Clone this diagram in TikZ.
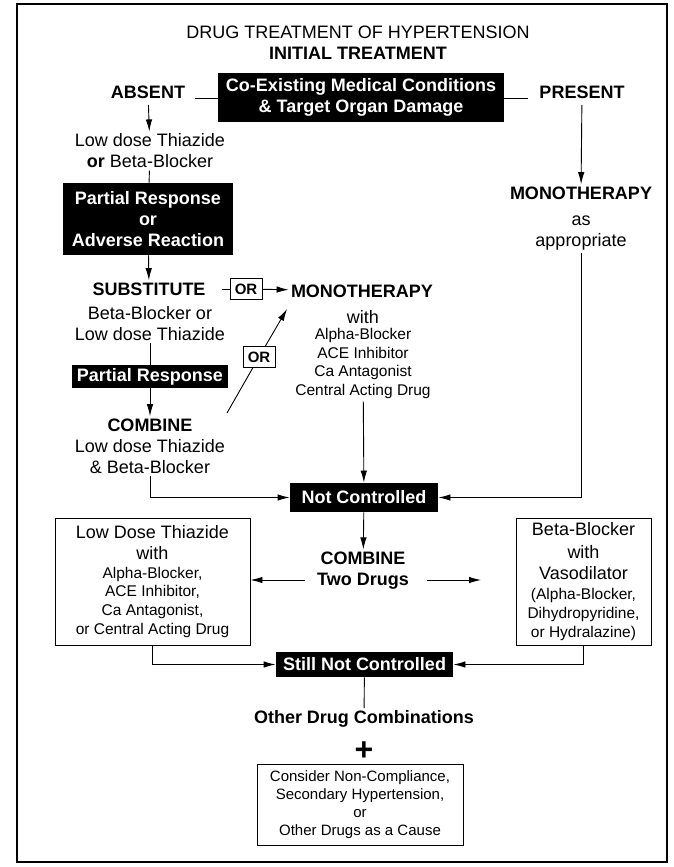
\documentclass[tikz,border=0pt]{standalone}
\usepackage{fontspec}
\setmainfont{Liberation Sans}
\usetikzlibrary{arrows.meta}

% font sizes used in the chart
\newcommand{\fsBig}{\fontsize{18}{21}\selectfont}
\newcommand{\fsMid}{\fontsize{15.5}{18.8}\selectfont}
\newcommand{\fsSmall}{\fontsize{15}{18}\selectfont}

\tikzset{
  lbl/.style={align=center, font=\fsBig, inner sep=2pt},
  hd/.style={align=center, font=\fsBig\bfseries, inner sep=2pt},
  blk/.style={fill=black, text=white, align=center, font=\fsBig\bfseries, inner sep=3pt},
  lst/.style={align=center, font=\fsMid, inner sep=2pt},
  orbox/.style={draw, font=\fontsize{15}{17}\selectfont\bfseries, minimum width=32pt, minimum height=21pt, inner sep=1pt},
  txtbox/.style={draw, align=center, inner sep=3pt},
}

\begin{document}
\begin{tikzpicture}[x=1pt, y=-1pt, line width=0.9pt, >={Latex[length=12pt,width=6.5pt]}]
    \useasboundingbox (0,0) rectangle (673,867);
    % outer frame
    \draw[line width=1.1pt] (17,4) rectangle (667,862);

    % heading
    \node[lbl] (ttl) at (358,32) {DRUG TREATMENT OF HYPERTENSION};
    \node[hd] (init) at (358,53) {INITIAL TREATMENT};
    \node[blk, minimum width=286pt, minimum height=49pt] (coexist) at (361,97.5) {Co-Existing Medical Conditions\\\& Target Organ Damage};
    \node[hd] (absent) at (148,92) {ABSENT};
    \node[hd] (present) at (582,92) {PRESENT};
    \draw ([xshift=8pt]absent.base east) -- (absent.base -| coexist.west);
    \draw (coexist.east |- present.base) -- ([xshift=-9pt]present.base west);

    % left branch: condition absent
    \node[lbl] (first) at (150,151) {Low dose Thiazide\\\textbf{or} Beta-Blocker};
    \draw[->, shorten <=4pt] (absent) -- (first);
    \node[blk, minimum width=170pt, minimum height=72pt] (partA) at (148,219) {Partial Response\\or\\Adverse Reaction};
    \draw (first) -- (partA);
    \node[hd] (subst) at (149,289) {SUBSTITUTE};
    \draw[->] (partA) -- (subst);
    \node[orbox] (orA) at (246,289) {OR};
    \node[hd] (monoA) at (362,291) {MONOTHERAPY};
    \draw ([xshift=14pt]subst.east) -- (orA);
    \draw[->] (orA) -- (monoA);

    \node[lbl] (substB) at (150,323.5) {Beta-Blocker or\\Low dose Thiazide};
    \node[blk, minimum width=156pt, minimum height=22pt] (partB) at (150,376.5) {Partial Response};
    \draw (substB) -- (partB);
    \node[lbl] (comb) at (150,446) {\textbf{COMBINE}\\Low dose Thiazide\\\& Beta-Blocker};
    \draw[->] (partB) -- (comb);

    % second OR, on the slanted arrow
    \coordinate (diagS) at (227,413);
    \coordinate (diagE) at (287,309);
    \node[orbox] (orB) at (259,357) {OR};
    \draw (diagS) -- (orB);
    \draw[->] (orB) -- (diagE);

    \node[lbl] (withA) at (363,317) {with};
    \node[lst] (listA) at (363,363.5) {Alpha-Blocker\\ACE Inhibitor\\Ca Antagonist\\Central Acting Drug};

    % right branch: condition present
    \node[hd] (monoB) at (581,193) {MONOTHERAPY};
    \draw[->, shorten <=4pt] (present) -- (monoB);
    \node[lbl] (approp) at (581,233) {as\\appropriate};

    \node[blk, minimum width=148pt, minimum height=29pt] (notc) at (364,497.5) {Not Controlled};
    \draw[->] (listA) -- (notc);
    \draw[->] (comb.south) |- (notc.west);
    \draw[->] (approp.south) |- (notc.east);

    % two drug combinations
    \node[hd] (combB) at (363,570.5) {COMBINE\\Two Drugs};
    \draw[->] (notc) -- (combB);
    \node[txtbox, font=\fsMid, minimum width=195pt, minimum height=127pt] (boxA) at (152.5,581.5)
        {{\fsBig Low Dose Thiazide}\\[2pt]{\fsBig with}\\Alpha-Blocker,\\ACE Inhibitor,\\Ca Antagonist,\\or Central Acting Drug};
    \node[txtbox, font=\fsMid, minimum width=135pt, minimum height=127pt] (boxB) at (583.5,581.5)
        {{\fsBig Beta-Blocker}\\[4pt]{\fsBig with}\\[2.5pt]{\fsBig Vasodilator}\\[1pt](Alpha-Blocker,\\Dihydropyridine,\\or Hydralazine)};
    \coordinate (cl) at (305,580);
    \coordinate (cr) at (427,580);
    \coordinate (cre) at (481,580);
    \draw[->] (cl) -- (cl -| boxA.east);
    \draw[->] (cr) -- (cre);

    % last step
    \node[blk, minimum width=177pt, minimum height=25pt] (still) at (364.5,664.5) {Still Not Controlled};
    \draw[->] (boxA.south) |- (still.west);
    \draw[->] (boxB.south) |- (still.east);
    \node[hd] (other) at (364,719) {Other Drug Combinations};
    \draw (still) -- (other);
    \node[font=\fontsize{32}{32}\selectfont\bfseries, inner sep=0pt] (plus) at (364,751) {+};
    \node[txtbox, font=\fsSmall, minimum width=206pt, minimum height=81pt] (cause) at (360,804.5)
        {Consider Non-Compliance,\\Secondary Hypertension,\\or\\Other Drugs as a Cause};
\end{tikzpicture}
\end{document}
